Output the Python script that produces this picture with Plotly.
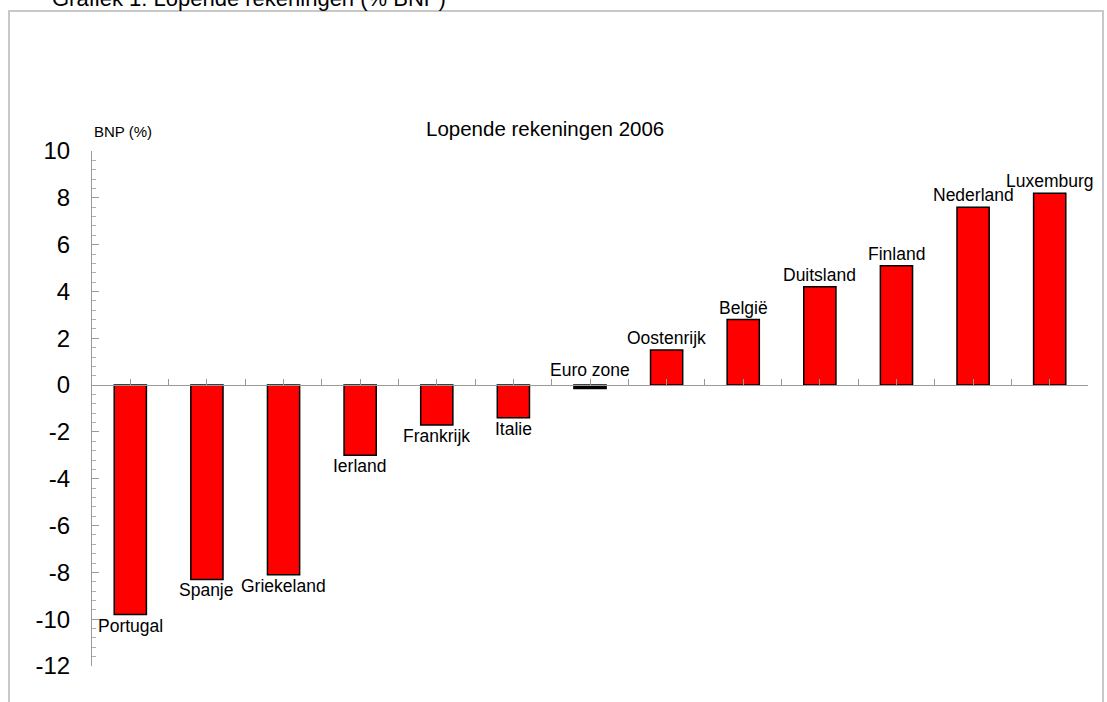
import plotly.graph_objects as go
import numpy as np

countries = ["Portugal", "Spanje", "Griekeland", "Ierland", "Frankrijk", "Italie",
             "Euro zone", "Oostenrijk", "België", "Duitsland", "Finland", "Nederland", "Luxemburg"]
values = [-9.8, -8.3, -8.1, -3.0, -1.7, -1.4, -0.15, 1.5, 2.8, 4.2, 5.1, 7.6, 8.2]
y_ticks = [10, 8, 6, 4, 2, 0, -2, -4, -6, -8, -10, -12]

title_text = "Lopende rekeningen 2006"
yaxis_label = "BNP (%)"
top_text = "Grafiek 1: Lopende rekeningen (% BNP)"

n = len(countries)
xs = list(range(n))
bar_colors = ["#000000" if c == "Euro zone" else "#ff0000" for c in countries]

fig = go.Figure()
fig.add_trace(go.Bar(
    x=xs, y=values, width=0.42,
    marker=dict(color=bar_colors, line=dict(color="#000000", width=1.5)),
    hoverinfo="skip",
))

font_family = "Liberation Sans, Arial, sans-serif"
lab_size = 17.5
annotations = []
for i, (c, v) in enumerate(zip(countries, values)):
    if c == "Euro zone":
        annotations.append(dict(x=i, y=0, text=c, showarrow=False, yanchor="bottom",
                                yshift=3, font=dict(size=lab_size, color="black", family=font_family)))
    elif v < 0:
        annotations.append(dict(x=i, y=v, text=c, showarrow=False, yanchor="top",
                                yshift=1, font=dict(size=lab_size, color="black", family=font_family)))
    else:
        annotations.append(dict(x=i, y=v, text=c, showarrow=False, yanchor="bottom",
                                yshift=0, font=dict(size=lab_size, color="black", family=font_family)))

annotations.append(dict(xref="paper", yref="paper", x=0.455, y=1.0, yshift=9,
                        text=title_text, showarrow=False, xanchor="center", yanchor="bottom",
                        font=dict(size=20.5, color="black", family=font_family)))
annotations.append(dict(xref="paper", yref="paper", x=0.0, y=1.0, yshift=9,
                        text=yaxis_label, showarrow=False, xanchor="left", yanchor="bottom",
                        font=dict(size=15, color="black", family=font_family)))
annotations.append(dict(xref="paper", yref="paper", x=-0.042, y=1.2738, yshift=-3,
                        text=top_text, showarrow=False, xanchor="left", yanchor="bottom",
                        font=dict(size=22, color="black", family=font_family)))

half_ticks = list(np.arange(-0.5, n, 0.5))

fig.update_layout(
    width=1107, height=702,
    margin=dict(l=92, r=19, t=151, b=36),
    paper_bgcolor="white", plot_bgcolor="white",
    showlegend=False,
    annotations=annotations,
    font=dict(family=font_family, color="black"),
    xaxis=dict(range=[-0.5, n - 0.5], anchor="free", position=12 / 22,
               showline=True, linecolor="#9a9a9a", linewidth=1,
               tickmode="array", tickvals=half_ticks, ticks="inside", ticklen=6,
               tickcolor="#9a9a9a", showticklabels=False, showgrid=False, zeroline=False),
    yaxis=dict(range=[-12, 10], tickmode="array", tickvals=y_ticks,
               ticktext=[str(t) for t in y_ticks],
               showline=True, linecolor="#9a9a9a", linewidth=1,
               ticks="inside", ticklen=7, tickcolor="#9a9a9a",
               minor=dict(dtick=0.4, tick0=0, ticks="inside", ticklen=4, tickcolor="#b0b0b0", showgrid=False),
               tickfont=dict(size=24, color="black", family=font_family),
               ticklabelstandoff=16,
               showgrid=False, zeroline=False),
    shapes=[dict(type="rect", xref="paper", yref="paper",
                 x0=(9 - 92) / 996, x1=(1103 - 92) / 996,
                 y0=-0.1, y1=1 + (151 - 11) / 515,
                 line=dict(color="#c8c8c8", width=2), fillcolor="rgba(0,0,0,0)", layer="below")],
)

fig.write_html("out.html", config={"displayModeBar": False},
               post_script="document.body.style.margin='0';document.body.style.overflow='hidden';")
